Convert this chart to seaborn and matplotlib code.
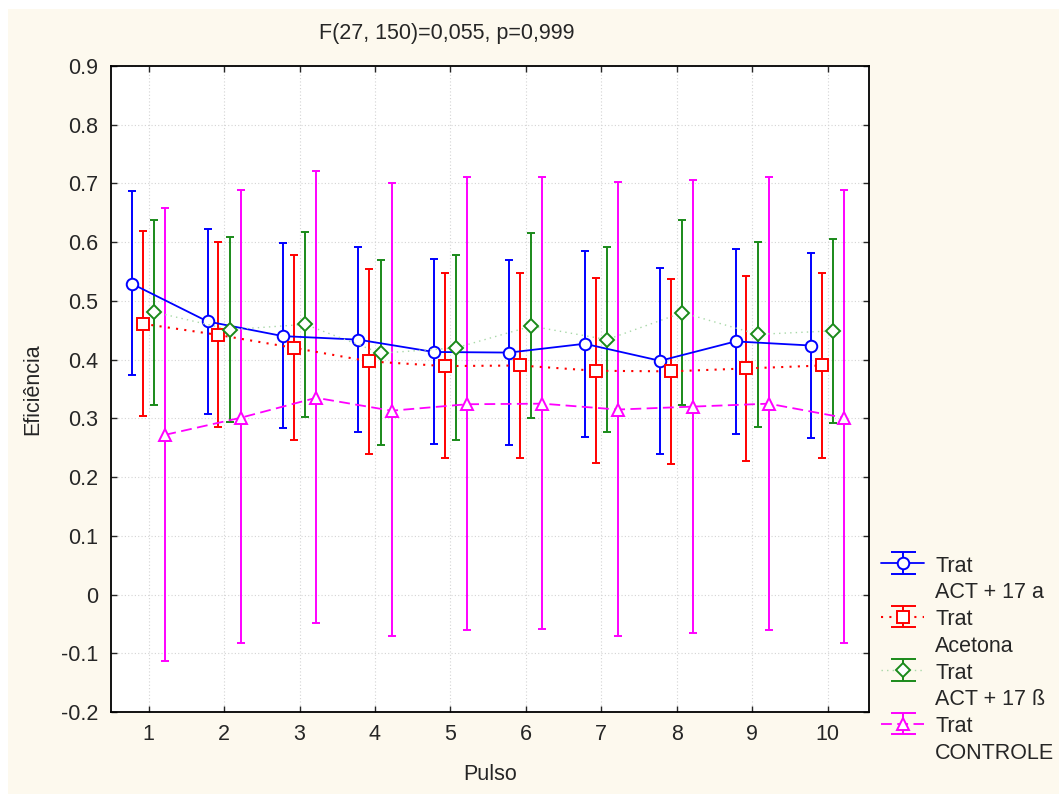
import numpy as np
import pandas as pd
import matplotlib
matplotlib.use("Agg")
import matplotlib.pyplot as plt
import seaborn as sns
from matplotlib.patches import Rectangle
from matplotlib.lines import Line2D

pulso = np.arange(1, 11)

act17a_mean = [0.529, 0.465, 0.440, 0.434, 0.413, 0.412, 0.427, 0.398, 0.431, 0.424]
act17a_low = [0.373, 0.308, 0.283, 0.277, 0.256, 0.254, 0.269, 0.240, 0.274, 0.267]
act17a_up = [0.687, 0.623, 0.599, 0.592, 0.571, 0.570, 0.585, 0.556, 0.589, 0.582]

acetona_mean = [0.461, 0.442, 0.420, 0.397, 0.389, 0.390, 0.381, 0.380, 0.385, 0.390]
acetona_low = [0.304, 0.285, 0.263, 0.240, 0.232, 0.233, 0.224, 0.222, 0.227, 0.232]
acetona_up = [0.619, 0.600, 0.578, 0.555, 0.547, 0.548, 0.539, 0.538, 0.542, 0.547]

act17b_mean = [0.481, 0.451, 0.460, 0.411, 0.420, 0.457, 0.434, 0.480, 0.443, 0.449]
act17b_low = [0.323, 0.294, 0.303, 0.255, 0.263, 0.300, 0.276, 0.323, 0.285, 0.292]
act17b_up = [0.638, 0.609, 0.618, 0.570, 0.578, 0.615, 0.592, 0.638, 0.601, 0.606]

controle_mean = [0.272, 0.301, 0.335, 0.313, 0.324, 0.325, 0.315, 0.320, 0.325, 0.301]
controle_low = [-0.113, -0.082, -0.049, -0.071, -0.061, -0.059, -0.070, -0.065, -0.060, -0.082]
controle_up = [0.658, 0.688, 0.721, 0.700, 0.711, 0.711, 0.702, 0.706, 0.711, 0.688]

grupos = ["ACT + 17 a", "Acetona", "ACT + 17 ß", "CONTROLE"]

sns.set_style("ticks")
plt.rcParams['font.family'] = ['Liberation Sans', 'DejaVu Sans']
plt.rcParams['font.size'] = 15.5

fig = plt.figure(figsize=(10.59, 7.94), dpi=100, facecolor="white")
fig.patches.append(Rectangle((8 / 1059, 0), 1, 1 - 9 / 794, transform=fig.transFigure,
                             facecolor="#fdf9ee", edgecolor="none", zorder=-10))
ax = fig.add_axes([0.1048, 0.1033, 0.7158, 0.8136])
ax.set_facecolor("white")

series = [
    (act17a_mean, act17a_low, act17a_up, "#0000ff", "#0000ff", "-", "o", -0.22, 1.3),
    (acetona_mean, acetona_low, acetona_up, "#ff0000", "#ff0000", (0, (1, 3)), "s", -0.075, 1.5),
    (act17b_mean, act17b_low, act17b_up, "#1a8a1a", "#a8d8a8", (0, (1, 3)), "D", 0.075, 1.0),
    (controle_mean, controle_low, controle_up, "#ff00ff", "#ff00ff", (0, (6, 3)), "^", 0.22, 1.3),
]

handles = []
labels = []
for (m, lo, up, col, lcol, ls, mk, off, lw), grp in zip(series, grupos):
    m = np.array(m)
    x = pulso + off
    ms = 7.2 if mk == "D" else 8.3
    yerr = [m - np.array(lo), np.array(up) - m]
    ax.errorbar(x, m, yerr=yerr, fmt="none", ecolor=col, elinewidth=1.4,
                capsize=3, capthick=1.4, zorder=2)
    df = pd.DataFrame({"x": x, "y": m})
    sns.lineplot(data=df, x="x", y="y", ax=ax, color=lcol, linestyle=ls, lw=lw,
                 marker=mk, markersize=ms,
                 markerfacecolor="white", markeredgecolor=col, markeredgewidth=1.4,
                 legend=False, zorder=3)
    h = ax.errorbar([np.nan], [np.nan], yerr=[[np.nan], [np.nan]], color=lcol, ecolor=col,
                    linestyle=ls, lw=lw, marker=mk, markersize=ms,
                    markerfacecolor="white", markeredgecolor=col, markeredgewidth=1.4,
                    elinewidth=1.4, capsize=9, capthick=1.4)
    handles += [h, Line2D([], [], linestyle="none")]
    labels += ["Trat", grp]

ax.set_xlim(0.5, 10.55)
ax.set_ylim(-0.2, 0.9)
ax.set_xticks(pulso)
ax.set_yticks(np.round(np.arange(-0.2, 0.91, 0.1), 1))
ax.set_yticklabels(["-0.2", "-0.1", "0", "0.1", "0.2", "0.3", "0.4", "0.5", "0.6",
                    "0.7", "0.8", "0.9"])
ax.grid(True, color="#d4d4d4", linestyle=(0, (1, 2)), lw=0.8)
ax.tick_params(direction="in", length=4, width=1, top=True, right=True,
               labelsize=15.5, pad=9)
for s in ax.spines.values():
    s.set_color("black")
    s.set_linewidth(1.3)

ax.set_xlabel("Pulso", fontsize=15.5, labelpad=13)
ax.set_ylabel("Eficiência", fontsize=15.5, labelpad=13)
fig.text(447 / 1059, 1 - 33 / 794, "F(27, 150)=0,055, p=0,999", ha="center", va="center",
         fontsize=15.5)

leg = ax.legend(handles, labels, loc="upper left", bbox_to_anchor=(1.005, 0.257),
                frameon=False, fontsize=15.5, handlelength=2.0, handleheight=1.0,
                labelspacing=0.22, handletextpad=0.5, borderaxespad=0)

fig.savefig("out.png", dpi=100, facecolor=fig.get_facecolor())
